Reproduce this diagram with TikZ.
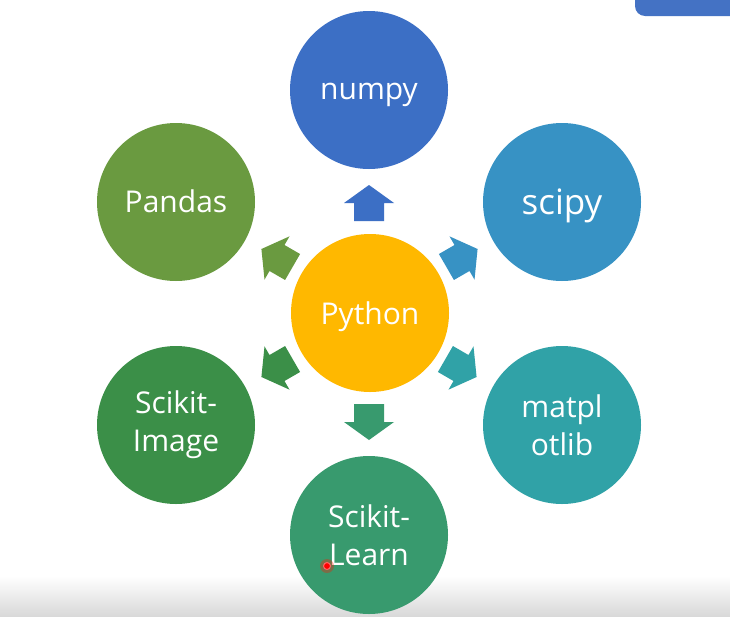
\documentclass[tikz,border=0pt]{standalone}
\usepackage{fontspec}
\setmainfont{Open Sans}
\definecolor{cNumpy}{HTML}{3C6FC5}
\definecolor{cScipy}{HTML}{3792C4}
\definecolor{cMat}{HTML}{30A2A7}
\definecolor{cLearn}{HTML}{389A6E}
\definecolor{cImage}{HTML}{3B8F48}
\definecolor{cPandas}{HTML}{6A9A40}
\definecolor{cPython}{HTML}{FFB800}
\definecolor{cTab}{HTML}{4472C4}
\tikzset{
  bubble/.style={circle, minimum size=158pt, inner sep=0pt},
  btext/.style={text=white, inner sep=0pt, font=\fontsize{30}{38}\selectfont, align=center},
}
\newcommand{\blockarr}[3]{% position, visual angle, colour
  \begin{scope}[shift={#1}, rotate=#2]
    \fill[#3] (-18,-15) -- (0,-15) -- (0,-25) -- (18,0) -- (0,25) -- (0,15) -- (-18,15) -- cycle;
  \end{scope}}
\begin{document}
\begin{tikzpicture}[x=1pt,y=-1pt]
\useasboundingbox (0,0) rectangle (730,616);
\fill[white] (0,0) rectangle (730,616);
\shade[top color=white, bottom color=black!15] (0,576) rectangle (730,616);
\fill[cTab, rounded corners=10pt] (635,-20) rectangle (745,16);

\node[bubble, fill=cPython] (python) at (370,313) {};
\node[bubble, fill=cNumpy] (numpy) at (369,90) {};
\node[bubble, fill=cScipy] (scipy) at (562,202) {};
\node[bubble, fill=cMat] (mat) at (562,425) {};
\node[bubble, fill=cLearn] (learn) at (369,535) {};
\node[bubble, fill=cImage] (image) at (176,425) {};
\node[bubble, fill=cPandas] (pandas) at (176,202) {};

\node[btext, yshift=-4pt] (pythonT) at (python) {Python};
\node[btext, yshift=-5pt] (numpyT) at (numpy) {numpy};
\node[btext, yshift=-4pt, font=\fontsize{35}{38}\selectfont] (scipyT) at (scipy) {scipy};
\node[btext] (matT) at (mat) {matpl\\otlib};
\node[btext] (learnT) at (learn) {Scikit-\\Learn};
\node[btext] (imageT) at (image) {Scikit-\\Image};
\node[btext, yshift=1pt] (pandasT) at (pandas) {Pandas};

\coordinate (a1) at (369,203);
\coordinate (a2) at (462,258);
\coordinate (a3) at (461,368);
\coordinate (a4) at (369,422);
\coordinate (a5) at (277,368);
\coordinate (a6) at (277,258);
\blockarr{(a1)}{90}{cNumpy}
\blockarr{(a2)}{30}{cScipy}
\blockarr{(a3)}{-30}{cMat}
\blockarr{(a4)}{-90}{cLearn}
\blockarr{(a5)}{210}{cImage}
\blockarr{(a6)}{150}{cPandas}

\node[circle, fill=red!80!orange, opacity=0.35, minimum size=14pt, inner sep=0pt] (glow) at (327,566) {};
\node[circle, fill=red, draw=red!60!white, line width=1pt, minimum size=7pt, inner sep=0pt] (dot) at (327,566) {};
\end{tikzpicture}
\end{document}
